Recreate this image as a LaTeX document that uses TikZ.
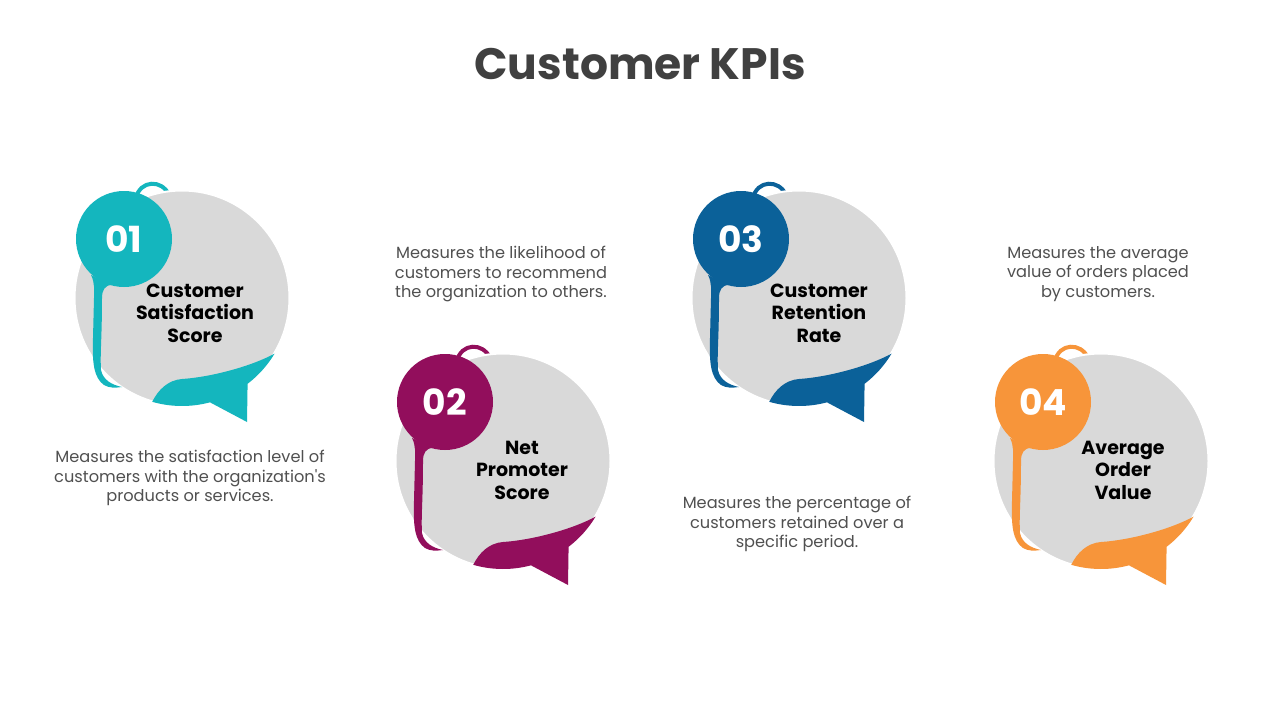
\documentclass[tikz,border=0pt]{standalone}
\usepackage{fontspec}
\setmainfont{Poppins}
\definecolor{cteal}{RGB}{20,182,190}
\definecolor{cmag}{RGB}{146,14,92}
\definecolor{cblue}{RGB}{11,97,153}
\definecolor{corange}{RGB}{247,149,58}
\definecolor{cgray}{RGB}{217,217,217}
\definecolor{ctext}{RGB}{64,64,64}
\definecolor{cdesc}{RGB}{80,80,80}
\tikzset{
  graydisc/.style={circle, fill=cgray, draw=white, line width=2pt, minimum size=215pt, inner sep=0pt},
  numdisc/.style={circle, minimum size=96pt, inner sep=0pt},
  numtext/.style={text=white, font=\bfseries\fontsize{36}{36}\selectfont},
  kpititle/.style={align=center, text=black, font=\bfseries\fontsize{19}{22.5}\selectfont},
  kpidesc/.style={align=center, text=cdesc, font=\fontsize{16.2}{19.8}\selectfont},
}
\newcommand{\kpibubble}[4]{%
  \begin{scope}[shift={#2}]
    \draw[#3, line width=4pt] (-46,-100) .. controls (-42,-118) and (-20,-119) .. (-13,-103);
    \node[graydisc] (#1g) at (0,0) {};
    \fill[#3] (106:108) .. controls (-24,92) and (-14,82) .. (0,81)
      .. controls (30,79) and (70,68) .. (31:108)
      arc[start angle=31, end angle=52.6, radius=108] -- (65,124) -- (75:108)
      arc[start angle=75, end angle=106, radius=108] -- cycle;
    \fill[#3] (-91,-23) .. controls (-87,-15) and (-88,-8) .. (-88,0) -- (-89,40)
      .. controls (-90,65) and (-88,80) .. (-78,87)
      .. controls (-73,90) and (-67,90) .. (-60,89)
      .. controls (-70,87) and (-79,82) .. (-81,72)
      .. controls (-82,55) and (-80,40) .. (-80,0)
      .. controls (-80,-8) and (-77,-13) .. (-70,-13) -- cycle;
    \node[numdisc, fill=#3] (#1c) at (-58,-59) {};
    \node[numtext] (#1n) at (-58,-59) {#4};
  \end{scope}}
\begin{document}
\begin{tikzpicture}[x=1pt,y=-1pt]
\useasboundingbox (0,0) rectangle (1280,720);
\fill[white] (0,0) rectangle (1280,720);
\node[text=ctext, font=\bfseries\fontsize{44}{50}\selectfont] (title) at (640,64) {Customer KPIs};

\kpibubble{a}{(182,298)}{cteal}{01}
\kpibubble{b}{(503,461)}{cmag}{02}
\kpibubble{c}{(799,298)}{cblue}{03}
\kpibubble{d}{(1101,461)}{corange}{04}

\node[kpititle] (t1) at (195,313) {Customer\\Satisfaction\\Score};
\node[kpititle] (t2) at (522,470) {Net\\Promoter\\Score};
\node[kpititle] (t3) at (819,313) {Customer\\Retention\\Rate};
\node[kpititle] (t4) at (1123,470) {Average\\Order\\Value};

\node[kpidesc] (d1) at (190,478) {Measures the satisfaction level of\\customers with the organization\textquotesingle s\\products or services.};
\node[kpidesc] (d2) at (501,274) {Measures the likelihood of\\customers to recommend\\the organization to others.};
\node[kpidesc] (d3) at (797,524) {Measures the percentage of\\customers retained over a\\specific period.};
\node[kpidesc] (d4) at (1098,274) {Measures the average\\value of orders placed\\by customers.};
\end{tikzpicture}
\end{document}
